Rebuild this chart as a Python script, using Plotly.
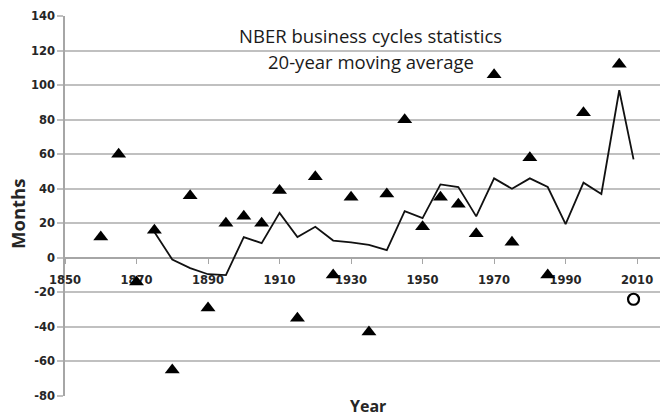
import plotly.graph_objects as go

# Data
tri_years = [1860, 1865, 1870, 1875, 1880, 1885, 1890, 1895, 1900, 1905, 1910, 1915, 1920, 1925,
             1930, 1935, 1940, 1945, 1950, 1955, 1960, 1965, 1970, 1975, 1980, 1985, 1995, 2005]
tri_vals = [12, 60, -14, 16, -65, 36, -29, 20, 24, 20, 39, -35, 47, -10,
            35, -43, 37, 80, 18, 35, 31, 14, 106, 9, 58, -10, 84, 112]

ma_years = [1875, 1880, 1885, 1890, 1895, 1900, 1905, 1910, 1915, 1920, 1925, 1930, 1935, 1940,
            1945, 1950, 1955, 1960, 1965, 1970, 1975, 1980, 1985, 1990, 1995, 2000, 2005, 2009]
ma_vals = [15, -1, -6, -9.5, -10, 12, 8.5, 26, 12, 18, 10, 9, 7.5, 4.5,
           27, 23, 42.5, 41, 24, 46, 40, 46, 41, 19.5, 43.5, 37, 97, 57]

circ_years = [2009]
circ_vals = [-24]

x_ticks = [1850, 1870, 1890, 1910, 1930, 1950, 1970, 1990, 2010]
y_ticks = [-80, -60, -40, -20, 0, 20, 40, 60, 80, 100, 120, 140]
y_ticktext = [str(v) for v in y_ticks]
title_lines = ["NBER business cycles statistics", "20-year moving average"]

fig = go.Figure()
fig.add_trace(go.Scatter(x=ma_years, y=ma_vals, mode="lines",
                         line=dict(color="#111111", width=1.8), showlegend=False))
fig.add_trace(go.Scatter(x=tri_years, y=tri_vals, mode="markers",
                         marker=dict(symbol="triangle-up", size=13, color="#000000"),
                         showlegend=False))
fig.add_trace(go.Scatter(x=circ_years, y=circ_vals, mode="markers",
                         marker=dict(symbol="circle-open", size=11, color="#000000",
                                     line=dict(width=2.2, color="#000000")),
                         showlegend=False))

tickfont = dict(family="DejaVu Sans", size=11.5, color="#262626", weight="bold")

fig.update_layout(
    template="none",
    width=660, height=417,
    margin=dict(l=65, r=0, t=16, b=21, pad=0),
    paper_bgcolor="white", plot_bgcolor="white",
    showlegend=False,
    xaxis=dict(range=[1850, 2016.4], tickvals=x_ticks, anchor="free", position=80 / 220,
               automargin=False, ticklabelstandoff=7, layer="below traces",
               showline=True, linecolor="#a6a6a6", linewidth=1.5,
               ticks="outside", ticklen=5, tickcolor="#a6a6a6", tickwidth=1.2,
               showgrid=False, zeroline=False, tickfont=tickfont),
    yaxis=dict(range=[-80, 140], tickvals=y_ticks, ticktext=y_ticktext, automargin=False,
               layer="below traces",
               showgrid=True, gridcolor="#c0c0c0",
               gridwidth=1.5, showline=True, linecolor="#a6a6a6", linewidth=1.5,
               ticks="outside", ticklen=6, tickcolor="#c0c0c0", tickwidth=1.5,
               zeroline=False, tickfont=tickfont),
    annotations=[
        dict(text=title_lines[0], x=(371 - 65) / 595, y=(396 - 35) / 380, xref="paper", yref="paper",
             showarrow=False, xanchor="center", yanchor="middle",
             font=dict(family="Open Sans", size=18.5, color="#1a1a1a")),
        dict(text=title_lines[1], x=(371 - 65) / 595, y=(396 - 61) / 380, xref="paper", yref="paper",
             showarrow=False, xanchor="center", yanchor="middle",
             font=dict(family="Open Sans", size=18.5, color="#1a1a1a")),
        dict(text="Year", x=(368 - 65) / 595, y=(396 - 406) / 380, xref="paper", yref="paper",
             showarrow=False, xanchor="center", yanchor="middle",
             font=dict(family="Open Sans", size=16, color="#262626", weight="bold")),
        dict(text="Months", x=(17 - 65) / 595, y=(396 - 214) / 380, xref="paper", yref="paper",
             showarrow=False, xanchor="center", yanchor="middle", textangle=-90,
             font=dict(family="Open Sans", size=18.5, color="#262626", weight="bold")),
    ],
)

fig.write_html("out.html", config={"displayModeBar": False},
               post_script="document.body.style.margin='0';document.body.style.overflow='hidden';")
